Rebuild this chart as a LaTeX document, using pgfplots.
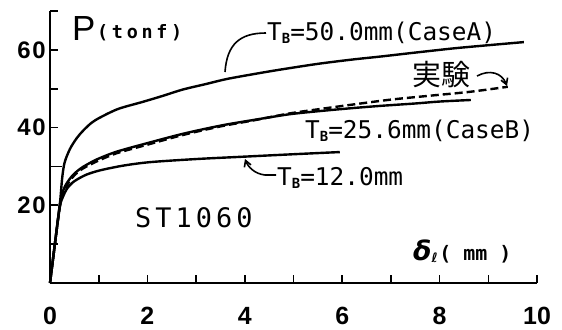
\documentclass[border=0pt]{standalone}
\usepackage{fontspec}
\usepackage{pgfplots}
\pgfplotsset{compat=1.18}
\usetikzlibrary{arrows.meta}
\setmainfont{DejaVu Sans}
\newfontfamily\monof{DejaVu Sans Mono}
\newfontfamily\monosp{DejaVu Sans Mono}[LetterSpace=15]
\newfontfamily\monospb{DejaVu Sans Mono}[LetterSpace=20]
\newfontfamily\tickf{Liberation Sans}
\newfontfamily\tickfsp{Liberation Sans}[LetterSpace=8]
\newfontfamily\cjk{Noto Sans CJK JP}
\newcommand\sub[1]{\raisebox{-3bp}{\fontsize{14}{14}\selectfont\bfseries #1}}
\begin{document}
\begin{tikzpicture}[x=1bp,y=1bp]
\begin{axis}[
  at={(50bp,46bp)}, anchor=south west,
  width=487bp, height=272bp, scale only axis,
  xmin=0, xmax=10, ymin=0, ymax=70,
  axis x line=bottom, axis y line=left,
  axis line style={line width=2.2bp, -},
  xtick={0,1,...,10}, xticklabels={0,,2,,4,,6,,8,,10},
  ytick={10,20,...,70}, yticklabels={,20,,40,,60,},
  tick align=inside, major tick length=8bp,
  tick style={line width=1.6bp, black},
  /pgf/number format/assume math mode=true,
  xticklabel style={font=\tickf\bfseries\fontsize{25}{25}\selectfont, inner sep=0pt, anchor=north, yshift=-24bp},
  yticklabel style={font=\tickfsp\bfseries\fontsize{24}{24}\selectfont, inner sep=0pt, anchor=east, xshift=-4bp},
  clip=false,
]
% T_B = 50.0 mm (Case A)
\addplot[black, line width=2.4bp, smooth, tension=0.5] coordinates {
(0,0)(0.1,10)(0.2,20)(0.25,27)(0.3,31)(0.41,34.5)(0.55,37.3)(0.68,39.2)(0.85,41.2)(1.03,42.6)(1.4,44.8)(1.9,46.6)(2.3,48.1)(2.73,49.8)(3.2,51.2)(3.63,52.5)(4.2,53.8)(4.72,54.9)(5.5,56.4)(6.2,57.5)(6.8,58.3)(7.5,59.3)(8.3,60.4)(9.0,61.2)(9.73,62)};
% T_B = 25.6 mm (Case B)
\addplot[black, line width=2.4bp, smooth, tension=0.5] coordinates {
(0,0)(0.1,10)(0.2,20)(0.27,23.8)(0.35,25.8)(0.45,27.5)(0.55,28.7)(0.68,29.9)(0.96,31.8)(1.37,33.8)(2.0,36)(2.73,38.4)(3.5,40.5)(4.2,42)(4.9,43.4)(5.5,44.2)(6.2,45)(6.8,45.6)(7.5,46.2)(8.0,46.7)(8.64,47.1)};
% experiment
\addplot[black, line width=2.4bp, smooth, tension=0.5, dash pattern=on 8bp off 4bp] coordinates {
(0,0)(0.1,10)(0.2,19.5)(0.27,23)(0.35,25.2)(0.45,27)(0.55,28.3)(0.68,29.5)(0.96,31.3)(1.37,33.4)(2.0,35.6)(2.73,38.1)(3.5,40.3)(4.2,41.9)(4.9,43.6)(5.5,44.7)(6.2,45.9)(7.0,47.2)(7.8,48.2)(8.62,49.2)(9.4,50.5)};
% T_B = 12.0 mm
\addplot[black, line width=2.4bp, smooth, tension=0.5] coordinates {
(0,0)(0.1,10)(0.2,19.5)(0.27,22.3)(0.35,24.3)(0.45,25.7)(0.55,26.6)(0.75,27.9)(1.03,29.0)(1.5,30.2)(2.05,31.1)(3.0,31.9)(3.96,32.5)(4.93,33.1)(5.95,33.7)};
% short horizontal stub
\addplot[black, line width=1.4bp] coordinates {(0,30)(0.25,30)};
\end{axis}
\pgfresetboundingbox
\useasboundingbox (0,0) rectangle (562,329);
% texts
\node[anchor=base west, inner sep=0pt, font=\tickf\fontsize{35}{35}\selectfont] at (72,289) {P};
\node[anchor=base west, inner sep=0pt, font=\monospb\bfseries\fontsize{18.5}{18.5}\selectfont] at (97,291) {(tonf)};
\node[anchor=base west, inner sep=0pt, font=\monof\fontsize{24.5}{24.5}\selectfont] at (267,289) {T\sub{B}=50.0mm(CaseA)};
\node[anchor=base west, inner sep=0pt, font=\monof\fontsize{24.5}{24.5}\selectfont] at (305,191) {T\sub{B}=25.6mm(CaseB)};
\node[anchor=base west, inner sep=0pt, font=\monof\fontsize{24.5}{24.5}\selectfont] at (277,144) {T\sub{B}=12.0mm};
\node[inner sep=0pt, font=\cjk\fontsize{29}{29}\selectfont] at (441,254) {実験};
\node[anchor=base west, inner sep=0pt, font=\monosp\fontsize{27}{27}\selectfont] at (135,102) {ST1060};
\node[anchor=base west, inner sep=0pt] at (413,69) {{\bfseries\itshape\fontsize{27}{27}\selectfont δ}\raisebox{-2bp}{\fontsize{13}{13}\selectfont\bfseries ℓ}\,{\monof\bfseries\fontsize{20}{20}\selectfont( mm )}};
% leaders
\draw[line width=1.6bp] (225,257) .. controls (227,285) and (240,296) .. (266,296);
\draw[line width=1.6bp, -{Straight Barb[length=6bp, width=7bp]}] (276,154) -- (265,154) .. controls (255,155) and (248,162) .. (245,170);
\draw[line width=1.6bp, -{Straight Barb[length=6bp, width=7bp]}] (477,253) .. controls (490,260) and (502,256) .. (507,243);
\end{tikzpicture}
\end{document}
